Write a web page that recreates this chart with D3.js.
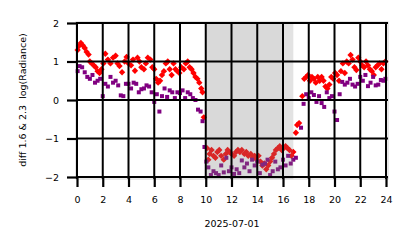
<!DOCTYPE html>
<html>
<head>
<meta charset="utf-8">
<script src="https://cdn.jsdelivr.net/npm/d3@7"></script>
<style>
  body { margin: 0; background: #fff; }
  svg { display: block; font-family: "DejaVu Sans", sans-serif; }
</style>
</head>
<body>
<svg id="chart" width="414" height="248"></svg>
<script>
// hours of the day (UTC) and log-radiance difference, red = 1.6 µm series
const redTimes = [0.05,0.15,0.3,0.45,0.6,0.75,0.9,1.0,1.15,1.3,1.45,1.6,1.75,1.9,2.05,2.2,2.4,2.6,2.8,3.0,3.15,3.3,3.5,3.7,3.85,4.0,4.2,4.35,4.5,4.7,4.85,5.0,5.2,5.35,5.5,5.7,5.85,6.0,6.15,6.3,6.45,6.6,6.75,6.9,7.05,7.2,7.35,7.5,7.65,7.8,7.95,8.1,8.3,8.45,8.6,8.75,8.9,9.05,9.2,9.35,9.5,9.65,9.75,9.85,
  10.1,10.2,10.3,10.45,10.6,10.75,10.9,11.05,11.2,11.4,11.55,11.7,11.85,12.0,12.2,12.35,12.5,12.65,12.8,13.0,13.15,13.3,13.5,13.65,13.8,13.95,14.1,14.25,14.4,14.55,14.7,14.85,15.0,15.15,15.3,15.45,15.6,15.75,15.9,16.05,16.2,16.35,16.5,16.65,16.8,
  17.0,17.1,17.25,17.5,17.65,17.8,17.95,18.1,18.25,18.4,18.55,18.7,18.85,19.0,19.15,19.3,19.45,19.6,19.75,19.9,20.05,20.2,20.35,20.5,20.65,20.8,20.95,21.1,21.25,21.4,21.55,21.7,21.85,22.0,22.15,22.3,22.45,22.6,22.75,22.9,23.05,23.2,23.35,23.5,23.65,23.8,23.95];
const redValues = [1.30,1.40,1.48,1.42,1.35,1.25,1.18,1.0,0.95,0.9,0.85,0.75,0.7,0.8,0.95,1.2,1.05,0.95,1.1,1.15,0.95,0.88,0.72,1.0,1.12,0.95,0.9,1.05,0.76,1.1,1.0,0.85,0.8,0.95,1.1,1.05,0.85,0.8,0.55,0.45,0.5,0.65,0.75,0.95,1.0,0.8,0.65,0.95,0.8,0.75,0.7,0.85,0.8,0.95,1.0,0.85,0.8,0.7,0.6,0.55,0.45,0.3,0.2,-0.45,
  -1.25,-1.55,-1.4,-1.3,-1.45,-1.5,-1.35,-1.3,-1.45,-1.55,-1.4,-1.3,-1.35,-1.4,-1.45,-1.35,-1.3,-1.35,-1.3,-1.4,-1.35,-1.45,-1.4,-1.5,-1.45,-1.55,-1.45,-1.6,-1.7,-1.65,-1.8,-1.7,-1.6,-1.5,-1.4,-1.3,-1.25,-1.2,-1.3,-1.25,-1.2,-1.25,-1.3,-1.45,-1.35,
  -0.85,-0.65,-0.6,0.1,0.55,0.6,0.65,0.5,0.6,0.55,0.45,0.6,0.5,0.6,0.5,0.35,0.3,0.4,0.6,0.55,0.7,0.65,0.5,0.75,0.95,0.7,1.0,0.95,1.17,1.05,0.85,0.78,1.1,1.0,0.9,0.85,1.0,0.9,0.8,0.75,0.65,0.85,0.9,0.95,0.8,0.95,1.0];

// purple = 2.3 µm series
const purpleTimes = [0.05,0.2,0.4,0.6,0.8,1.0,1.2,1.4,1.6,1.8,2.0,2.2,2.4,2.6,2.8,3.0,3.2,3.4,3.6,3.8,4.0,4.2,4.4,4.6,4.8,5.0,5.2,5.4,5.6,5.8,6.0,6.2,6.4,6.6,6.8,7.0,7.2,7.4,7.6,7.8,8.0,8.2,8.4,8.6,8.8,9.0,9.2,9.4,9.6,9.75,9.9,
  10.05,10.2,10.4,10.6,10.8,11.0,11.2,11.4,11.6,11.8,12.0,12.2,12.4,12.6,12.8,13.0,13.2,13.4,13.6,13.8,14.0,14.2,14.4,14.6,14.8,15.0,15.2,15.4,15.6,15.8,16.0,16.2,16.4,16.6,16.8,17.0,
  17.4,17.6,17.8,18.0,18.2,18.4,18.6,18.8,19.0,19.2,19.4,19.6,19.8,20.0,20.2,20.4,20.6,20.8,21.0,21.2,21.4,21.6,21.8,22.0,22.2,22.4,22.6,22.8,23.0,23.2,23.4,23.6,23.8,23.95];
const purpleValues = [0.75,0.88,0.85,0.72,0.6,0.55,0.65,0.45,0.5,0.55,0.1,0.42,0.35,0.6,0.45,0.5,0.38,0.12,0.1,0.42,0.42,0.3,0.45,0.42,0.2,0.28,0.3,0.38,0.35,0.2,-0.05,0.15,-0.3,0.1,0.3,0.08,0.25,0.2,0.05,0.2,0.18,0.25,0.05,0.2,0.15,0.05,0.0,-0.25,-0.3,-0.55,-1.22,
  -1.6,-1.75,-1.95,-1.85,-1.9,-1.95,-1.7,-1.88,-1.5,-1.85,-1.75,-1.92,-1.8,-1.9,-1.57,-1.75,-1.65,-1.85,-1.55,-1.7,-1.6,-1.9,-1.68,-1.65,-1.55,-1.95,-1.85,-1.6,-1.8,-1.75,-1.55,-1.7,-1.45,-1.65,-1.55,-1.5,
  -0.72,-0.1,0.15,0.05,0.2,0.13,-0.05,0.1,-0.08,-0.18,0.2,0.05,0.1,-0.3,-0.52,0.15,0.47,0.4,0.45,0.55,0.4,0.35,0.42,0.6,0.5,0.65,0.36,0.45,0.6,0.38,0.4,0.52,0.5,0.55];

const nightSpans = [[10.0, 16.05, 0.3], [16.05, 16.8, 0.22]];
const xTicks = d3.range(0, 25, 2);
const yTicks = [-2, -1, 0, 1, 2];

const svg = d3.select('#chart');
const x = d3.scaleLinear().domain([0, 24]).range([77, 386]);
const y = d3.scaleLinear().domain([-2, 2]).range([177, 23]);

// axes frame
svg.append('rect')
  .attr('x', 76).attr('y', 22).attr('width', 312).attr('height', 157)
  .attr('fill', '#fff').attr('stroke', '#d0d0d0').attr('stroke-width', 1);

const diamond = d3.symbol().type(d3.symbolDiamond2).size(26);
const redPts = redTimes.map((t, i) => [t, redValues[i]]);
const purplePts = purpleTimes.map((t, i) => [t, purpleValues[i]]);

svg.append('g').selectAll('path')
  .data(redPts).join('path')
  .attr('d', diamond)
  .attr('transform', d => `translate(${x(d[0])},${y(d[1])})`)
  .attr('fill', '#ff0000');

svg.append('g').selectAll('rect')
  .data(purplePts).join('rect')
  .attr('x', d => x(d[0]) - 2).attr('y', d => y(d[1]) - 2)
  .attr('width', 4).attr('height', 4)
  .attr('fill', '#800080');

// shaded night interval, drawn over the points
svg.append('g').selectAll('rect')
  .data(nightSpans).join('rect')
  .attr('x', d => x(d[0])).attr('width', d => x(d[1]) - x(d[0]))
  .attr('y', 22).attr('height', 157)
  .attr('fill', '#808080').attr('fill-opacity', d => d[2]);

// black grid
const grid = svg.append('g').attr('stroke', '#000').attr('stroke-width', 2);
grid.selectAll('.gx').data(xTicks).join('line')
  .attr('x1', d => x(d)).attr('x2', d => x(d)).attr('y1', 22).attr('y2', 179);
grid.selectAll('.gy').data(yTicks).join('line')
  .attr('y1', d => y(d)).attr('y2', d => y(d)).attr('x1', 76).attr('x2', 388);

// axes with long ticks
const xAxis = svg.append('g').attr('transform', 'translate(0,177)')
  .call(d3.axisBottom(x).tickValues(xTicks).tickSize(10).tickPadding(9).tickFormat(d3.format('d')));
const yAxis = svg.append('g').attr('transform', 'translate(77,0)')
  .call(d3.axisLeft(y).tickValues(yTicks).tickSize(10).tickPadding(8).tickFormat(d => d < 0 ? '\u2212' + Math.abs(d) : d));
[xAxis, yAxis].forEach(a => {
  a.select('.domain').remove();
  a.selectAll('.tick line').attr('stroke', '#000').attr('stroke-width', 2.2);
  a.selectAll('.tick text').attr('fill', '#000').style('font-size', '9.5px').style('font-family', '"DejaVu Sans", sans-serif');
});

svg.append('text')
  .attr('x', 232).attr('y', 227)
  .attr('text-anchor', 'middle')
  .style('font-size', '9.5px')
  .text('2025-07-01');

svg.append('text')
  .attr('transform', 'translate(26,100) rotate(-90)')
  .attr('text-anchor', 'middle')
  .style('font-size', '9.5px')
  .style('white-space', 'pre')
  .text('diff 1.6 & 2.3  log(Radiance)');
</script>
</body>
</html>
